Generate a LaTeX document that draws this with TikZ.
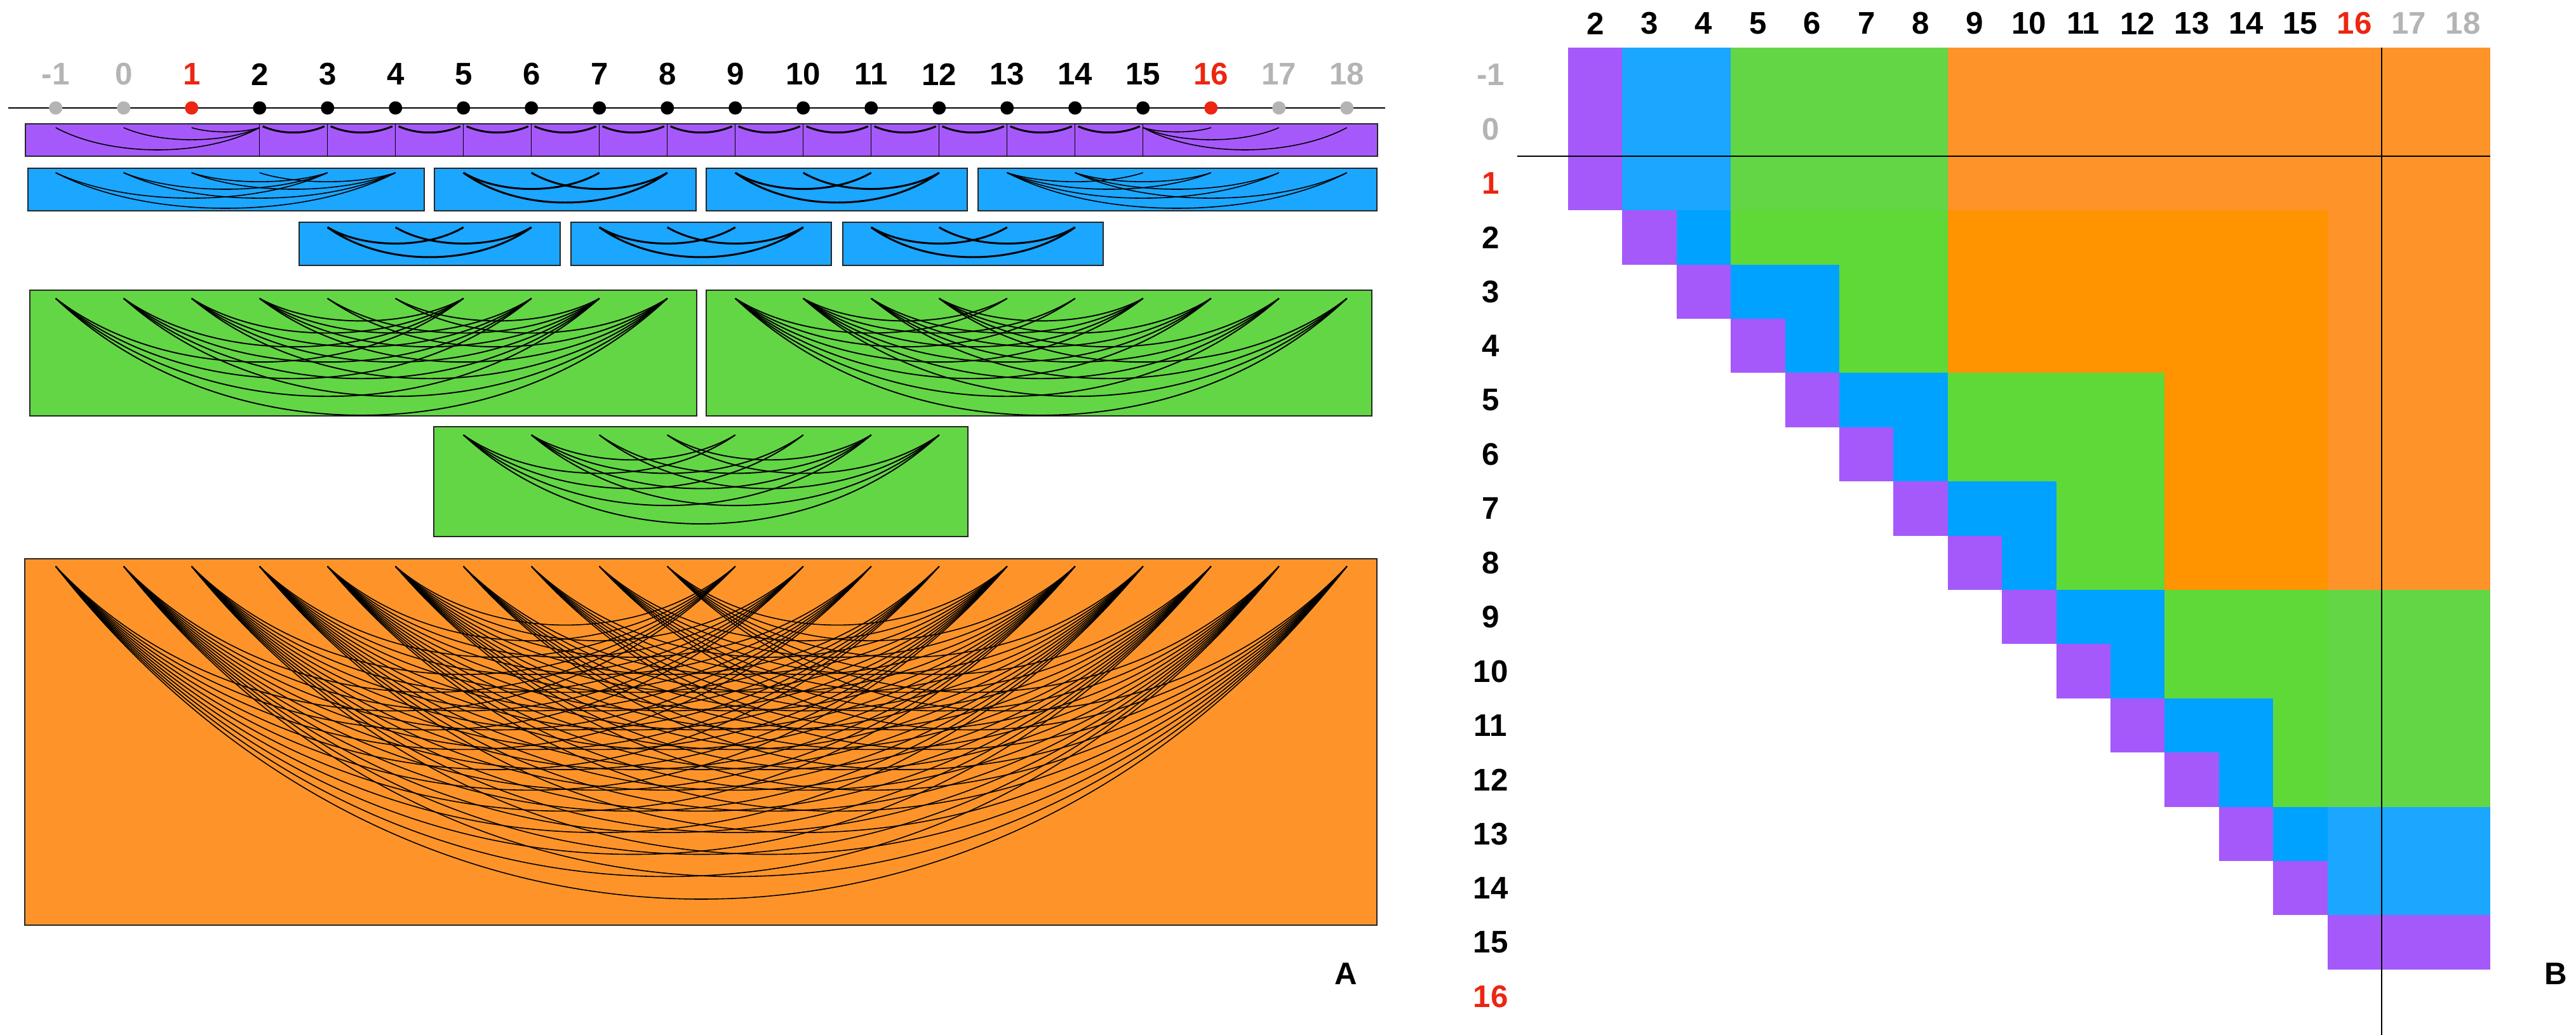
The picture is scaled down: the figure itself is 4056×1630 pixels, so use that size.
\documentclass[tikz,border=0pt]{standalone}
\usepackage{fontspec}
\setmainfont{Liberation Sans}

\definecolor{lavender}{RGB}{166,89,250}
\definecolor{skyblue}{RGB}{27,166,255}
\definecolor{deepsky}{RGB}{0,162,255}
\definecolor{grass}{RGB}{99,214,69}
\definecolor{lime}{RGB}{95,217,56}
\definecolor{tangerine}{RGB}{254,148,41}
\definecolor{amber}{RGB}{255,147,0}
\definecolor{ghost}{RGB}{180,180,180}
\definecolor{bound}{RGB}{236,38,18}

\tikzset{
  lbl/.style={font=\fontsize{14}{14}\selectfont\bfseries, inner sep=0pt},
  dot/.style={circle, inner sep=0pt, minimum size=0.21cm},
  box/.style={draw=black!85, line width=0.45pt},
  thinarc/.style={line width=0.45pt},
  midarc/.style={line width=0.55pt},
  thickarc/.style={line width=0.85pt}
}

% arcs i -> j hanging below a box top: style, rows, cols, top, depth, max span, power
\newcommand{\arcset}[7]{%
  \foreach \i in {#2}{%
    \foreach \j in {#3}{%
      \pgfmathsetmacro{\xa}{194.7+107*(\i)}%
      \pgfmathsetmacro{\xb}{194.7+107*(\j)}%
      \pgfmathsetmacro{\yc}{#4+4/3*#5*pow((\j-(\i))/#6,#7)}%
      \draw[#1] (\xa,#4) .. controls ({0.73*\xa+0.27*\xb},\yc) and ({0.27*\xa+0.73*\xb},\yc) .. (\xb,#4);
    }}}

\begin{document}
\begin{tikzpicture}[x=0.01cm,y=-0.01cm]
\useasboundingbox (0,0) rectangle (4056,1630);

%%% A: number line
\coordinate (axl) at (13,170);
\coordinate (axr) at (2181,170);
\draw[line width=0.4pt] (axl) -- (axr);
\foreach \i/\c in {-1/ghost,0/ghost,1/bound,2/black,3/black,4/black,5/black,6/black,7/black,8/black,9/black,10/black,11/black,12/black,13/black,14/black,15/black,16/bound,17/ghost,18/ghost}{
  \node[lbl,text=\c] (n\i) at ({194.7+107*(\i)},117) {\i};
  \node[dot,fill=\c] (d\i) at ({194.7+107*(\i)},170) {};
}

% purple row
\path[box,fill=lavender] (40,195) rectangle (2169,246);
\foreach \k in {2,...,15}
  \draw[line width=0.35pt] ({194.7+107*\k},195) -- ({194.7+107*\k},246);
\arcset{thinarc}{-1,0,1}{2}{201}{35}{3}{1.5}
\arcset{thinarc}{15}{16,17,18}{201}{35}{3}{1.5}
\foreach \k in {2,...,14}
  \draw[thickarc] ({199.7+107*\k},199) .. controls ({230+107*\k},212) and ({266+107*\k},212) .. ({296.7+107*\k},199);

% blue, first row
\path[box,fill=skyblue] (44,265) rectangle (668,332);
\path[box,fill=skyblue] (684,265) rectangle (1096,332);
\path[box,fill=skyblue] (1112,265) rectangle (1523,332);
\path[box,fill=skyblue] (1540,265) rectangle (2168,332);
\arcset{thinarc}{-1,0,1}{3}{272}{56}{5}{1.5}
\arcset{thinarc}{-1,0,1,2}{4}{272}{56}{5}{1.5}
\arcset{thickarc}{5}{7,8}{272}{47}{3}{1.5}
\arcset{thickarc}{6}{8}{272}{47}{3}{1.5}
\arcset{thickarc}{9}{11,12}{272}{47}{3}{1.5}
\arcset{thickarc}{10}{12}{272}{47}{3}{1.5}
\arcset{thinarc}{13}{15,16,17,18}{272}{56}{5}{1.5}
\arcset{thinarc}{14}{16,17,18}{272}{56}{5}{1.5}

% blue, second row
\path[box,fill=skyblue] (471,350) rectangle (882,418);
\path[box,fill=skyblue] (899,350) rectangle (1309,418);
\path[box,fill=skyblue] (1327,350) rectangle (1737,418);
\arcset{thickarc}{3}{5,6}{358}{47}{3}{1.5}
\arcset{thickarc}{4}{6}{358}{47}{3}{1.5}
\arcset{thickarc}{7}{9,10}{358}{47}{3}{1.5}
\arcset{thickarc}{8}{10}{358}{47}{3}{1.5}
\arcset{thickarc}{11}{13,14}{358}{47}{3}{1.5}
\arcset{thickarc}{12}{14}{358}{47}{3}{1.5}

% green
\path[box,fill=grass] (47,457) rectangle (1097,655);
\path[box,fill=grass] (1112,457) rectangle (2160,655);
\path[box,fill=grass] (683,672) rectangle (1524,845);
\arcset{midarc}{-1,0,1,2}{5,6,7,8}{470}{184}{9}{1.5}
\arcset{midarc}{3,4}{7,8}{470}{184}{9}{1.5}
\arcset{midarc}{9,10}{13,...,18}{470}{184}{9}{1.5}
\arcset{midarc}{11,12}{15,...,18}{470}{184}{9}{1.5}
\arcset{midarc}{5,6}{9,...,12}{685}{140}{7}{1.5}
\arcset{midarc}{7,8}{11,12}{685}{140}{7}{1.5}

% orange
\path[box,fill=tangerine] (39,880) rectangle (2168,1457);
\arcset{thinarc}{-1,...,4}{9,...,18}{892}{524}{19}{1.3}
\arcset{thinarc}{5,...,8}{13,...,18}{892}{524}{19}{1.3}

\node[lbl] (tagA) at (2119,1534) {A};

%%% B: block matrix
\foreach \ia/\ib/\ja/\jb/\c in {
  -1/1/2/2/lavender, -1/1/3/4/skyblue, -1/1/5/8/grass, -1/1/9/18/tangerine,
  2/8/16/18/tangerine, 9/12/16/18/grass, 13/14/16/18/skyblue, 15/15/16/18/lavender,
  2/2/3/3/lavender, 2/2/4/4/deepsky, 2/2/5/8/lime, 2/4/9/15/amber,
  3/3/4/4/lavender, 3/3/5/6/deepsky, 3/4/7/8/lime,
  4/4/5/5/lavender, 4/4/6/6/deepsky,
  5/5/6/6/lavender, 5/5/7/8/deepsky, 5/6/9/12/lime, 5/8/13/15/amber,
  6/6/7/7/lavender, 6/6/8/8/deepsky,
  7/7/8/8/lavender, 7/7/9/10/deepsky, 7/8/11/12/lime,
  8/8/9/9/lavender, 8/8/10/10/deepsky,
  9/9/10/10/lavender, 9/9/11/12/deepsky, 9/10/13/15/lime,
  10/10/11/11/lavender, 10/10/12/12/deepsky,
  11/11/12/12/lavender, 11/11/13/14/deepsky, 11/12/15/15/lime,
  12/12/13/13/lavender, 12/12/14/14/deepsky,
  13/13/14/14/lavender, 13/13/15/15/deepsky,
  14/14/15/15/lavender}
  \fill[\c] ({2469+85.4*(\ja-2)},{75+85.4*(\ia+1)}) rectangle ({2469+85.4*(\jb-1)},{75+85.4*(\ib+2)});

\foreach \j/\c in {2/black,3/black,4/black,5/black,6/black,7/black,8/black,9/black,10/black,11/black,12/black,13/black,14/black,15/black,16/bound,17/ghost,18/ghost}
  \node[lbl,text=\c] (c\j) at ({2511.7+85.4*(\j-2)},37) {\j};
\foreach \i/\c in {-1/ghost,0/ghost,1/bound,2/black,3/black,4/black,5/black,6/black,7/black,8/black,9/black,10/black,11/black,12/black,13/black,14/black,15/black,16/bound}
  \node[lbl,text=\c] (r\i) at (2347,{117.7+85.4*(\i+1)}) {\i};

% boundary lines
\coordinate (hl) at (2389,245.8);
\coordinate (hr) at (3921,245.8);
\coordinate (vt) at (3750,75);
\coordinate (vb) at (3750,1630);
\draw[line width=0.6pt] (hl) -- (hr);
\draw[line width=0.4pt] (vt) -- (vb);

\node[lbl] (tagB) at (4024,1534) {B};
\end{tikzpicture}
\end{document}
